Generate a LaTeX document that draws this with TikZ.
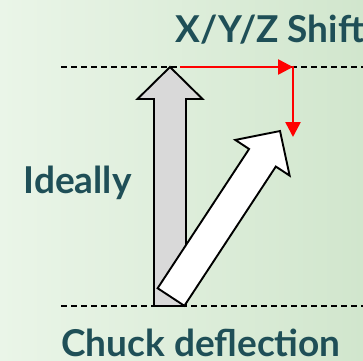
\documentclass[tikz,border=0pt]{standalone}
\usepackage{fontspec}
\setmainfont{Lato}
\usepackage{tikz}
\usetikzlibrary{positioning,arrows.meta,calc}
\definecolor{bgleft}{HTML}{EAF5E8}
\definecolor{bgright}{HTML}{D1E6CD}
\definecolor{labelink}{HTML}{1F4F57}
\definecolor{shaftgray}{HTML}{D9D9D9}

\tikzset{
  fat arrow/.pic={
    \draw[pic actions] (-16,0) -- (-16,#1-32) -- (-32.5,#1-32) -- (0,#1)
      -- (32.5,#1-32) -- (16,#1-32) -- (16,0) -- cycle;
  }
}

\begin{document}
\begin{tikzpicture}[
  x=1pt, y=1pt,
  lbl/.style={font=\fontsize{37}{42}\selectfont\bfseries,text=labelink,inner sep=0pt,anchor=base},
  level/.style={draw=black,line width=1.6pt,dash pattern=on 5.5pt off 4.5pt},
  shiftarrow/.style={draw=red,line width=2.6pt,-{Triangle[length=15pt,width=15pt]}},
  >=Stealth ]
  \shade[left color=bgleft,right color=bgright] (0,0) rectangle (363,360);
  \useasboundingbox (0,0) rectangle (363,360);

  \coordinate (topl) at (61,293);
  \coordinate (topr) at (363,293);
  \coordinate (botl) at (61,54);
  \coordinate (botr) at (363,54);
  \draw[level] (topl) -- (topr);
  \draw[level] (botl) -- (botr);

  \pic[fill=shaftgray,line width=1.9pt,line join=miter] at (170,54) {fat arrow=239};
  \pic[fill=white,line width=1.9pt,line join=miter,rotate=-33.3] at (171,63) {fat arrow=198.6};

  \coordinate (start) at (180,293);
  \coordinate (corner) at (293,293);
  \coordinate (drop) at (293,223);
  \draw[shiftarrow] (start) -- (corner);
  \draw[shiftarrow] ([yshift=1.3pt]corner) -- (drop);

  \node[lbl] (xyz) at (270,318) {X/Y/Z Shift};
  \node[lbl] (ideal) at (77.5,167) {Ideally};
  \node[lbl] (chuck) at (201,4) {Chuck deflection};
\end{tikzpicture}
\end{document}
